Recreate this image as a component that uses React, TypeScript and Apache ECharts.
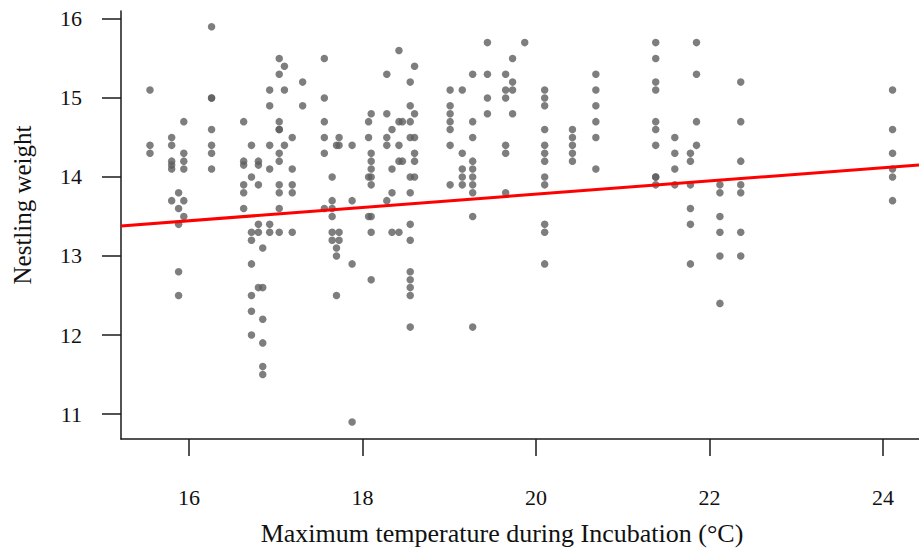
import React, { useEffect, useRef } from "react";
import * as echarts from "echarts";

// Maximum temperature during incubation (°C) for each column of nestlings
const temperatureColumns: number[] = [
  15.55, 15.8, 15.88, 15.94, 16.26, 16.63, 16.72, 16.8, 16.85, 16.93,
  17.04, 17.1, 17.19, 17.31, 17.56, 17.65, 17.7, 17.73, 17.88, 18.07,
  18.1, 18.28, 18.34, 18.42, 18.46, 18.55, 18.6, 19.01, 19.15, 19.27,
  19.44, 19.65, 19.73, 19.87, 20.1, 20.42, 20.69, 21.38, 21.6, 21.78,
  21.85, 22.12, 22.36, 24.11,
];

// Nestling weights observed at each temperature column
const weightColumns: number[][] = [
  [15.1, 14.4, 14.3],
  [14.5, 14.4, 14.2, 14.15, 14.1, 13.7],
  [13.8, 13.6, 13.4, 12.8, 12.5],
  [14.7, 14.3, 14.2, 14.1, 13.7, 13.5],
  [15.9, 15.0, 15.0, 14.6, 14.4, 14.3, 14.1],
  [14.7, 14.2, 14.15, 13.9, 13.8, 13.6],
  [14.4, 14.0, 13.3, 13.2, 12.9, 12.5, 12.3, 12.0],
  [14.2, 14.15, 13.9, 13.4, 13.3, 12.6],
  [13.1, 12.6, 12.2, 11.9, 11.6, 11.5],
  [15.1, 14.9, 14.4, 14.1, 13.4, 13.3],
  [15.5, 15.3, 14.7, 14.6, 14.6, 14.3, 14.2, 13.9, 13.8, 13.6, 13.3],
  [15.4, 15.1, 14.4],
  [14.5, 14.1, 13.9, 13.8, 13.3],
  [15.2, 14.9],
  [15.5, 15.0, 14.7, 14.5, 14.3, 13.6],
  [14.0, 13.7, 13.6, 13.5, 13.3, 13.2],
  [14.4, 13.1, 13.0, 12.5],
  [14.5, 14.4, 13.3, 13.2],
  [14.4, 13.7, 12.9, 10.9],
  [14.7, 14.5, 14.0, 13.5],
  [14.8, 14.3, 14.2, 14.1, 14.0, 13.9, 13.5, 13.3, 12.7],
  [15.3, 14.8, 14.5, 14.4, 13.7],
  [14.6, 14.1, 13.8, 13.3],
  [15.6, 14.7, 14.4, 14.2, 13.3],
  [14.7, 14.2],
  [15.2, 14.9, 14.7, 14.5, 14.0, 13.8, 13.4, 13.2, 12.8, 12.7, 12.6, 12.5, 12.1],
  [15.4, 14.8, 14.5, 14.3, 14.2, 14.0],
  [15.1, 14.9, 14.8, 14.7, 14.6, 14.4, 13.9],
  [15.1, 14.3, 14.1, 14.0, 13.9],
  [15.3, 14.7, 14.5, 14.2, 14.1, 14.0, 13.9, 13.8, 13.5, 12.1],
  [15.7, 15.3, 15.0, 14.8],
  [15.3, 15.1, 15.0, 14.4, 14.3, 13.8],
  [15.5, 15.2, 15.1, 14.8],
  [15.7],
  [15.1, 15.0, 14.9, 14.6, 14.4, 14.3, 14.2, 14.0, 13.9, 13.4, 13.3, 12.9],
  [14.6, 14.5, 14.4, 14.3, 14.2],
  [15.3, 15.1, 14.9, 14.7, 14.5, 14.1],
  [15.7, 15.5, 15.2, 15.1, 14.7, 14.6, 14.4, 14.0, 14.0, 13.9],
  [14.5, 14.3, 14.1, 13.9],
  [14.3, 14.2, 13.9, 13.6, 13.4, 12.9],
  [15.7, 15.3, 14.7, 14.4],
  [13.9, 13.8, 13.5, 13.3, 13.0, 12.4],
  [15.2, 14.7, 14.2, 13.9, 13.8, 13.3, 13.0],
  [15.1, 14.6, 14.3, 14.1, 14.0, 13.7],
];

// Fitted regression line end points
const fitTemperatures: number[] = [15.216, 24.415];
const fitWeights: number[] = [13.38, 14.152];

// Tick labels
const xTicks: number[] = [16, 18, 20, 22, 24];
const yTicks: number[] = [11, 12, 13, 14, 15, 16];

const xTitle = "Maximum temperature during Incubation (°C)";
const yTitle = "Nestling weight";

const FONT = "'Liberation Serif', 'Times New Roman', serif";

export default function App() {
  const ref = useRef<HTMLDivElement>(null);

  useEffect(() => {
    if (!ref.current) return;
    const chart = echarts.init(ref.current, undefined, { renderer: "svg" });

    const points: number[][] = [];
    temperatureColumns.forEach((t, i) => {
      weightColumns[i].forEach((w) => points.push([t, w]));
    });
    const fit = fitTemperatures.map((t, i) => [t, fitWeights[i]]);

    const axisLine = { show: true, lineStyle: { color: "#1a1a1a", width: 1.5 } };

    chart.setOption({
      animation: false,
      backgroundColor: "#ffffff",
      grid: { left: 121, right: 0, top: 11, bottom: 111, containLabel: false },
      graphic: [
        {
          type: "text",
          x: 502,
          y: 533,
          style: {
            text: xTitle,
            fontFamily: FONT,
            fontSize: 26,
            fill: "#111",
            textAlign: "center",
            textVerticalAlign: "middle",
          },
        },
        {
          type: "text",
          x: 22,
          y: 205,
          rotation: Math.PI / 2,
          style: {
            text: yTitle,
            fontFamily: FONT,
            fontSize: 25,
            fill: "#111",
            textAlign: "center",
            textVerticalAlign: "middle",
          },
        },
      ],
      xAxis: {
        type: "value",
        min: 15.216,
        max: 24.415,
        axisLine,
        axisTick: {
          show: true,
          length: 17,
          customValues: xTicks,
          lineStyle: { color: "#1a1a1a", width: 1.5 },
        },
        axisLabel: {
          customValues: xTicks,
          margin: 47,
          fontFamily: FONT,
          fontSize: 22,
          color: "#111",
        },
        splitLine: { show: false },
      },
      yAxis: {
        type: "value",
        min: 10.684,
        max: 16.1,
        axisLine,
        axisTick: {
          show: true,
          length: 19,
          customValues: yTicks,
          lineStyle: { color: "#1a1a1a", width: 1.5 },
        },
        axisLabel: {
          customValues: yTicks,
          margin: 39,
          fontFamily: FONT,
          fontSize: 22,
          color: "#111",
        },
        splitLine: { show: false },
      },
      series: [
        {
          type: "scatter",
          data: points,
          symbol: "circle",
          symbolSize: 7.5,
          itemStyle: { color: "#5e5e5e" },
          z: 2,
        },
        {
          type: "line",
          data: fit,
          symbol: "none",
          lineStyle: { color: "#ff0000", width: 3 },
          z: 3,
        },
      ],
    });

    return () => chart.dispose();
  }, []);

  return (
    <div
      ref={ref}
      style={{ position: "absolute", left: 0, top: 0, width: 919, height: 550 }}
    />
  );
}
